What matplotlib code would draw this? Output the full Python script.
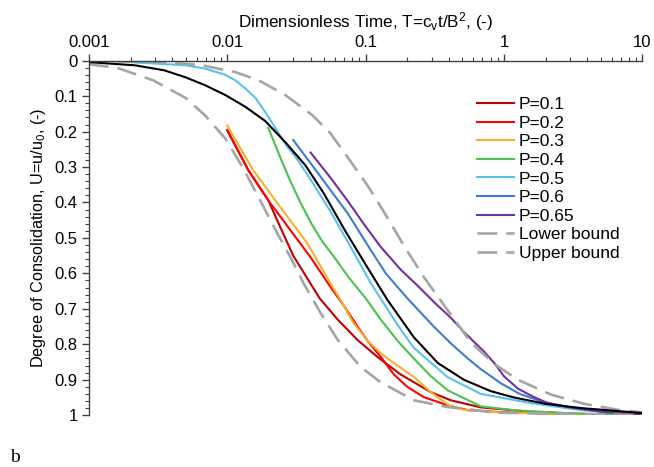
import matplotlib
matplotlib.use("Agg")
import matplotlib.pyplot as plt
from matplotlib.ticker import MultipleLocator, LogLocator, NullFormatter

plt.rcParams['font.family'] = ['Liberation Sans', 'DejaVu Sans']
plt.rcParams['mathtext.default'] = 'regular'

t_p01 = [0.01, 0.0142, 0.0198, 0.0242, 0.030, 0.038, 0.0465, 0.0627, 0.0875, 0.122, 0.179, 0.296, 0.413, 0.68, 1.5, 4.0, 10.0]
u_p01 = [0.196, 0.309, 0.394, 0.47, 0.55, 0.615, 0.67, 0.73, 0.788, 0.836, 0.885, 0.935, 0.958, 0.978, 0.99, 0.997, 0.999]

t_p02 = [0.01, 0.0142, 0.0198, 0.0286, 0.0399, 0.0557, 0.0693, 0.0875, 0.1033, 0.1285, 0.16, 0.2, 0.263, 0.39, 0.55, 1.0, 3.0, 10.0]
u_p02 = [0.196, 0.309, 0.394, 0.478, 0.554, 0.638, 0.69, 0.75, 0.79, 0.835, 0.885, 0.92, 0.949, 0.972, 0.986, 0.992, 0.997, 0.999]

t_p03 = [0.01, 0.0154, 0.0242, 0.038, 0.0557, 0.0659, 0.0818, 0.1033, 0.1285, 0.16, 0.223, 0.296, 0.393, 0.513, 1.0, 3.0, 10.0]
u_p03 = [0.183, 0.309, 0.413, 0.516, 0.628, 0.675, 0.74, 0.79, 0.825, 0.853, 0.892, 0.935, 0.97, 0.985, 0.993, 0.997, 0.999]

t_p04 = [0.0198, 0.0221, 0.0246, 0.0282, 0.0338, 0.0406, 0.0486, 0.0583, 0.075, 0.1, 0.1285, 0.17, 0.223, 0.296, 0.393, 0.68, 1.18, 3.0, 10.0]
u_p04 = [0.19, 0.235, 0.28, 0.335, 0.40, 0.46, 0.51, 0.55, 0.61, 0.67, 0.73, 0.79, 0.84, 0.89, 0.93, 0.975, 0.986, 0.995, 0.999]

t_p05 = [0.001, 0.0013, 0.005, 0.0069, 0.0097, 0.0114, 0.0135, 0.016, 0.0188, 0.0223, 0.0263, 0.0323, 0.04, 0.0557, 0.0741, 0.11, 0.17, 0.223, 0.393, 0.681, 1.57, 3.61, 10.0]
u_p05 = [0.0, 0.0, 0.013, 0.022, 0.04, 0.055, 0.078, 0.105, 0.145, 0.19, 0.235, 0.28, 0.335, 0.425, 0.51, 0.63, 0.745, 0.81, 0.893, 0.94, 0.966, 0.986, 0.997]

t_p06 = [0.030, 0.042, 0.0557, 0.0741, 0.1033, 0.14, 0.2, 0.311, 0.42, 0.548, 0.68, 0.95, 1.3, 1.9, 2.91, 5.0, 10.0]
u_p06 = [0.224, 0.30, 0.365, 0.43, 0.52, 0.60, 0.67, 0.75, 0.80, 0.84, 0.87, 0.91, 0.94, 0.962, 0.977, 0.99, 0.998]

t_p065 = [0.04, 0.0557, 0.0741, 0.0968, 0.1285, 0.18, 0.238, 0.32, 0.413, 0.513, 0.716, 0.86, 1.0, 1.26, 1.65, 2.08, 2.91, 5.0, 10.0]
u_p065 = [0.259, 0.33, 0.395, 0.46, 0.525, 0.59, 0.635, 0.685, 0.725, 0.765, 0.82, 0.855, 0.89, 0.925, 0.949, 0.966, 0.977, 0.99, 0.998]

t_ref = [0.001, 0.00215, 0.0035, 0.005, 0.0069, 0.0097, 0.0135, 0.0188, 0.0263, 0.0367, 0.05, 0.07, 0.1, 0.144, 0.223, 0.333, 0.513, 0.8, 1.18, 2.0, 3.61, 10.0]
u_ref = [0.004, 0.013, 0.027, 0.047, 0.069, 0.097, 0.13, 0.17, 0.23, 0.295, 0.375, 0.475, 0.575, 0.675, 0.78, 0.853, 0.90, 0.932, 0.95, 0.968, 0.98, 0.994]

t_lower = [0.001, 0.0016, 0.0029, 0.005, 0.0069, 0.0097, 0.0129, 0.0173, 0.023, 0.0286, 0.0356, 0.047, 0.063, 0.092, 0.1285, 0.223, 0.393, 0.9, 10.0]
u_lower = [0.01, 0.02, 0.055, 0.105, 0.154, 0.22, 0.30, 0.394, 0.487, 0.554, 0.628, 0.71, 0.788, 0.864, 0.907, 0.958, 0.977, 0.993, 1.0]

t_upper = [0.001, 0.0037, 0.0066, 0.0114, 0.0168, 0.0263, 0.0413, 0.0557, 0.0741, 0.1033, 0.135, 0.188, 0.263, 0.413, 0.577, 0.847, 1.26, 2.19, 3.8, 6.7, 10.0]
u_upper = [0.0, 0.004, 0.013, 0.032, 0.055, 0.097, 0.154, 0.205, 0.272, 0.352, 0.425, 0.52, 0.61, 0.716, 0.795, 0.855, 0.90, 0.942, 0.968, 0.985, 0.992]

x_ticks = [0.001, 0.01, 0.1, 1, 10]
x_labels = ['0.001', '0.01', '0.1', '1', '10']
y_ticks = [0, 0.1, 0.2, 0.3, 0.4, 0.5, 0.6, 0.7, 0.8, 0.9, 1]
y_labels = ['0', '0.1', '0.2', '0.3', '0.4', '0.5', '0.6', '0.7', '0.8', '0.9', '1']

fig = plt.figure(figsize=(6.54, 4.67), dpi=100)
ax = fig.add_axes([0.136, 0.111, 0.846, 0.759])

lw = 1.5
ax.plot(t_p01, u_p01, color='#C00000', lw=lw, label='P=0.1')
ax.plot(t_p02, u_p02, color='#FF0000', lw=lw, label='P=0.2')
ax.plot(t_p03, u_p03, color='#F2B22E', lw=lw, label='P=0.3')
ax.plot(t_p04, u_p04, color='#4EC04E', lw=lw, label='P=0.4')
ax.plot(t_p05, u_p05, color='#5BC0F0', lw=lw, label='P=0.5')
ax.plot(t_p06, u_p06, color='#3D7CC9', lw=lw, label='P=0.6')
ax.plot(t_p065, u_p065, color='#7030A0', lw=lw, label='P=0.65')
ax.plot(t_lower, u_lower, color='#A5A5A5', lw=1.9, dashes=(7.5, 3.4), label='Lower bound')
ax.plot(t_upper, u_upper, color='#A5A5A5', lw=1.9, dashes=(7.5, 3.4), label='Upper bound')
ax.plot(t_ref, u_ref, color='black', lw=1.5)

ax.set_xscale('log')
ax.set_xlim(0.001, 10)
ax.set_ylim(1, 0)

ax.xaxis.set_ticks_position('top')
ax.xaxis.set_label_position('top')
ax.set_xticks(x_ticks)
ax.set_xticklabels(x_labels)
ax.xaxis.set_minor_locator(LogLocator(base=10, subs=range(2, 10)))
ax.xaxis.set_minor_formatter(NullFormatter())
ax.set_yticks(y_ticks)
ax.set_yticklabels(y_labels)
ax.yaxis.set_minor_locator(MultipleLocator(0.02))

ax.spines['right'].set_visible(False)
ax.spines['bottom'].set_visible(False)
for s in ['left', 'top']:
    ax.spines[s].set_color('#404040')
    ax.spines[s].set_linewidth(1.0)
ax.tick_params(which='major', length=5, width=1, color='#404040', labelsize=12, pad=3)
ax.tick_params(which='minor', length=3, width=0.8, color='#404040')

ax.set_xlabel('Dimensionless Time, T=c$_v$t/B$^2$, (-)', fontsize=12.3, labelpad=5)
ax.set_ylabel('Degree of Consolidation, U=u/u$_0$, (-)', fontsize=11.7, labelpad=5)

ax.legend(loc='upper left', bbox_to_anchor=(0.702, 0.898), frameon=False, fontsize=12.5,
          handlelength=2.1, handletextpad=0.28, labelspacing=0.2, borderpad=0,
          borderaxespad=0)

fig.text(0.015, 0.011, 'b', family='Liberation Serif', fontsize=14)

fig.savefig('out.png', dpi=100)
